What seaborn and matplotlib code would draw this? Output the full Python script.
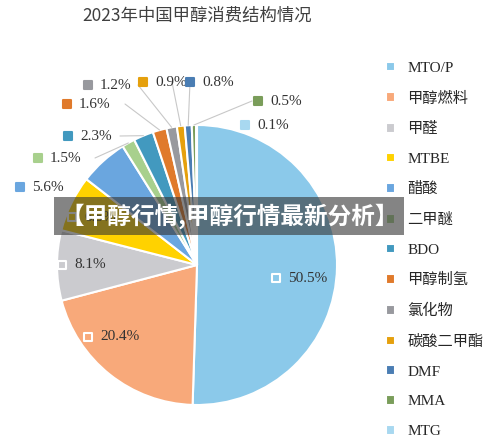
import matplotlib
matplotlib.use("Agg")
import matplotlib.pyplot as plt
import seaborn as sns
import numpy as np

categories = ["MTO/P", "甲醇燃料", "甲醛", "MTBE", "醋酸", "二甲醚", "BDO", "甲醇制氢",
              "氯化物", "碳酸二甲酯", "DMF", "MMA", "MTG"]
values = [50.5, 20.4, 8.1, 6.5, 5.6, 1.5, 2.3, 1.6, 1.2, 0.9, 0.8, 0.5, 0.1]
value_labels = ["50.5%", "20.4%", "8.1%", "6.5%", "5.6%", "1.5%", "2.3%", "1.6%",
                "1.2%", "0.9%", "0.8%", "0.5%", "0.1%"]
hex_colors = ["#8BC9EA", "#F8A97A", "#CBCBCF", "#FFD200", "#6AA6DF", "#A8D08D", "#4299BF",
              "#E07A2B", "#98999E", "#E5A00D", "#4A7DB3", "#7A9D5A", "#A8D8F0"]

sns.set_theme(style="white")
palette = sns.color_palette(hex_colors)
plt.rcParams['font.family'] = ['Liberation Serif', 'Noto Sans CJK SC', 'DejaVu Sans']

fig = plt.figure(figsize=(5, 4.43), dpi=100)
ax = fig.add_axes([0, 0, 1, 1])

cx, cy, R = 197, 443 - 265, 140
wedges, _ = ax.pie(values, colors=palette, startangle=90, counterclock=False,
                   center=(cx, cy), radius=R, wedgeprops=dict(edgecolor='white', linewidth=1.5),
                   frame=True)
ax.set_xlim(0, 500); ax.set_ylim(0, 443); ax.set_aspect('equal'); ax.axis('off')

place = [(276, 278, True, None), (88, 337, True, None), (62, 265, True, None),
         (72, 217, True, None), (20, 187, False, None), (38, 158, False, 95),
         (68, 136, False, 120), (67, 104, False, 125), (88, 85, False, 138),
         (143, 82, False, 172), (190, 82, False, 190), (258, 101, False, 252),
         (245, 125, False, None)]
for i, (w, lab, (sx, sy, inside, lx)) in enumerate(zip(wedges, value_labels, place)):
    y = 443 - sy
    ax.scatter([sx], [y], marker='s', s=28,
               facecolor='none' if inside else hex_colors[i],
               edgecolor='white' if inside else hex_colors[i], linewidths=1.5, zorder=5)
    ax.text(sx + 12, y, lab, fontsize=11, va='center', ha='left', color='#333333',
            family=['Liberation Serif'])
    if lx is not None:
        ang = np.deg2rad((w.theta1 + w.theta2) / 2)
        ex, ey = cx + R * np.cos(ang), cy + R * np.sin(ang)
        ax.plot([lx, ex], [y, ey], color='#C8C8C8', lw=0.8, zorder=1)

ax.text(197, 443 - 16, "2023年中国甲醇消费结构情况", ha='center', va='center', fontsize=12.5,
        color='#404040', family=['Noto Sans CJK SC'])

ax.legend(wedges, categories, loc='upper left', bbox_to_anchor=(372 / 500, 1 - 48 / 443),
          frameon=False, labelspacing=1.08, handlelength=0.6, handleheight=0.6,
          handletextpad=0.8, prop={'family': ['Liberation Serif', 'Noto Sans CJK SC'], 'size': 11})

ax.text(60, 443 - 216, "【甲醇行情,甲醇行情最新分析】", ha='left', va='center', fontsize=17,
        color='white', fontweight='bold', family=['Noto Sans CJK SC'], zorder=10,
        bbox=dict(boxstyle='square,pad=0.25', facecolor=(0.2, 0.2, 0.2, 0.6), edgecolor='none'))

fig.savefig("out.png", dpi=100)
